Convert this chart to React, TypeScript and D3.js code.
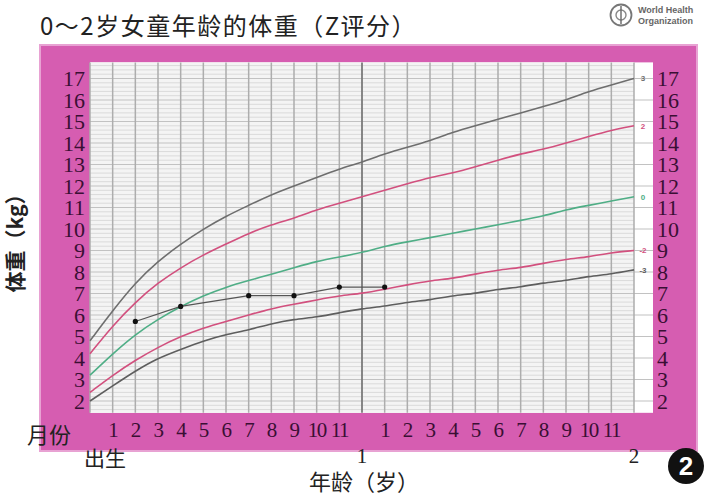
import React from 'react';
import * as d3 from 'd3';

// WHO weight-for-age, girls 0-24 months (kg)
const months = d3.range(0, 25);
const zMinus3 = [2.0, 2.7, 3.4, 4.0, 4.4, 4.8, 5.1, 5.3, 5.6, 5.8, 5.9, 6.1, 6.3, 6.4, 6.6, 6.7, 6.9, 7.0, 7.2, 7.3, 7.5, 7.6, 7.8, 7.9, 8.1];
const zMinus2 = [2.4, 3.2, 3.9, 4.5, 5.0, 5.4, 5.7, 6.0, 6.3, 6.5, 6.7, 6.9, 7.0, 7.2, 7.4, 7.6, 7.7, 7.9, 8.1, 8.2, 8.4, 8.6, 8.7, 8.9, 9.0];
const zZero = [3.2, 4.2, 5.1, 5.8, 6.4, 6.9, 7.3, 7.6, 7.9, 8.2, 8.5, 8.7, 8.9, 9.2, 9.4, 9.6, 9.8, 10.0, 10.2, 10.4, 10.6, 10.9, 11.1, 11.3, 11.5];
const zPlus2 = [4.2, 5.5, 6.6, 7.5, 8.2, 8.8, 9.3, 9.8, 10.2, 10.5, 10.9, 11.2, 11.5, 11.8, 12.1, 12.4, 12.6, 12.9, 13.2, 13.5, 13.7, 14.0, 14.3, 14.6, 14.8];
const zPlus3 = [4.8, 6.2, 7.5, 8.5, 9.3, 10.0, 10.6, 11.1, 11.6, 12.0, 12.4, 12.8, 13.1, 13.5, 13.8, 14.1, 14.5, 14.8, 15.1, 15.4, 15.7, 16.0, 16.4, 16.7, 17.0];

// child's measurements
const childMonths = [2, 4, 7, 9, 11, 13];
const childWeights = [5.7, 6.4, 6.9, 6.9, 7.3, 7.3];

const yTicks = d3.range(2, 18);
const monthTicks = d3.range(1, 24).filter(m => m !== 12);
const yearTicks = [1, 2];

const curves = [
  { label: '3', values: zPlus3, color: '#6e6e6e' },
  { label: '2', values: zPlus2, color: '#d2507e' },
  { label: '0', values: zZero, color: '#4fae86' },
  { label: '-2', values: zMinus2, color: '#d2507e' },
  { label: '-3', values: zMinus3, color: '#5e5e5e' },
];

const serif = '"Liberation Serif", "DejaVu Serif", serif';
const cjk = '"Noto Sans CJK SC", sans-serif';

export default function App() {
  const x = d3.scaleLinear().domain([0, 24]).range([90, 634]);
  const y = d3.scaleLinear().domain([2, 17]).range([401, 78.5]);
  const yTop = y(17.75);
  const yBottom = y(1.45);
  const panelRight = 653;

  const line = d3
    .line<number>()
    .x((_d, i) => x(months[i]))
    .y(d => y(d))
    .curve(d3.curveBasis);

  const childLine = d3
    .line<number>()
    .x((_d, i) => x(childMonths[i]))
    .y(d => y(d));

  const minorLines = d3.range(16, 178, 2).map(v => v / 10).filter(v => v % 1 !== 0);

  return (
    <svg width={716} height={500} style={{ position: 'absolute', left: 0, top: 0, background: '#fff' }}>
      {/* title */}
      <text x={40} y={35} fontFamily={cjk} fontSize={24} letterSpacing={1.5} fill="#222">
        0～2岁女童年龄的体重（Z评分）
      </text>

      {/* WHO logo */}
      <g>
        <circle cx={621} cy={15} r={10.5} fill="none" stroke="#777" strokeWidth={1.8} />
        <circle cx={621} cy={15} r={5} fill="none" stroke="#888" strokeWidth={1.4} />
        <line x1={621} y1={6} x2={621} y2={24} stroke="#666" strokeWidth={1.4} />
        <text x={638} y={13} fontFamily='"Liberation Sans", sans-serif' fontSize={9} fontWeight="bold" fill="#666">World Health</text>
        <text x={638} y={24} fontFamily='"Liberation Sans", sans-serif' fontSize={9} fontWeight="bold" fill="#666">Organization</text>
      </g>

      {/* pink frame */}
      <rect x={40} y={45} width={657} height={406} fill="#d65db1" stroke="#e8a2d3" strokeWidth={2} />

      {/* white panel */}
      <rect x={90} y={yTop} width={panelRight - 90} height={yBottom - yTop} fill="#fff" />
      <rect x={x(0)} y={yTop} width={x(24) - x(0)} height={yBottom - yTop} fill="#f4f4f4" />

      {/* minor horizontal grid */}
      {minorLines.map(v => (
        <line key={'mh' + v} x1={x(0)} x2={x(24)} y1={y(v)} y2={y(v)} stroke="#dadada" strokeWidth={1} />
      ))}
      {/* major horizontal grid */}
      {yTicks.map(v => (
        <line key={'h' + v} x1={x(0)} x2={panelRight} y1={y(v)} y2={y(v)} stroke="#c2c2c2" strokeWidth={1.2} />
      ))}
      {/* vertical grid */}
      {months.map(m => (
        <line
          key={'v' + m}
          x1={x(m)}
          x2={x(m)}
          y1={yTop}
          y2={yBottom}
          stroke={m === 12 ? '#7a7a7a' : '#adadad'}
          strokeWidth={m === 12 ? 1.8 : 1.5}
        />
      ))}

      {/* z-score curves */}
      {curves.map(c => (
        <g key={c.label}>
          <path d={line(c.values) || ''} fill="none" stroke={c.color} strokeWidth={1.6} />
          <text
            x={643}
            y={y(c.values[24])}
            dy="0.35em"
            textAnchor="middle"
            fontFamily='"Liberation Sans", sans-serif'
            fontSize={8}
            fontWeight="bold"
            fill={c.color}
          >
            {c.label}
          </text>
        </g>
      ))}

      {/* child's record */}
      <path d={childLine(childWeights) || ''} fill="none" stroke="#555" strokeWidth={1.2} />
      {childWeights.map((w, i) => (
        <circle key={'c' + i} cx={x(childMonths[i])} cy={y(w)} r={2.6} fill="#111" />
      ))}

      {/* y tick labels */}
      {yTicks.map(v => (
        <g key={'yl' + v}>
          <text x={85} y={y(v)} dy="0.35em" textAnchor="end" fontFamily={serif} fontSize={22} fill="#3a0f34">
            {v}
          </text>
          <text x={657} y={y(v)} dy="0.35em" textAnchor="start" fontFamily={serif} fontSize={22} fill="#3a0f34">
            {v}
          </text>
        </g>
      ))}

      {/* month labels */}
      {monthTicks.map(m => (
        <text key={'m' + m} x={x(m)} y={437} textAnchor="middle" fontFamily={serif} fontSize={21} letterSpacing={-1.5} fill="#3a0f34">
          {m > 12 ? m - 12 : m}
        </text>
      ))}
      <text x={27} y={443} fontFamily={cjk} fontSize={22} fill="#222">月份</text>
      <text x={84} y={466} fontFamily={cjk} fontSize={21} fill="#222">出生</text>
      {yearTicks.map(t => (
        <text key={'yr' + t} x={x(t * 12)} y={463} textAnchor="middle" fontFamily={serif} fontSize={21} fill="#222">
          {t}
        </text>
      ))}

      {/* axis titles */}
      <text x={364} y={490} textAnchor="middle" fontFamily={cjk} fontSize={22} fill="#222">年龄（岁）</text>
      <text
        transform="translate(23,238) rotate(-90)"
        textAnchor="middle"
        fontFamily={cjk}
        fontSize={21}
        fontWeight="bold"
        fill="#222"
      >
        体重（kg）
      </text>

      {/* figure number */}
      <circle cx={686} cy={466} r={18} fill="#111" />
      <text x={686} y={466} dy="0.36em" textAnchor="middle" fontFamily='"Liberation Sans", sans-serif' fontSize={26} fontWeight="bold" fill="#fff">
        2
      </text>
    </svg>
  );
}
